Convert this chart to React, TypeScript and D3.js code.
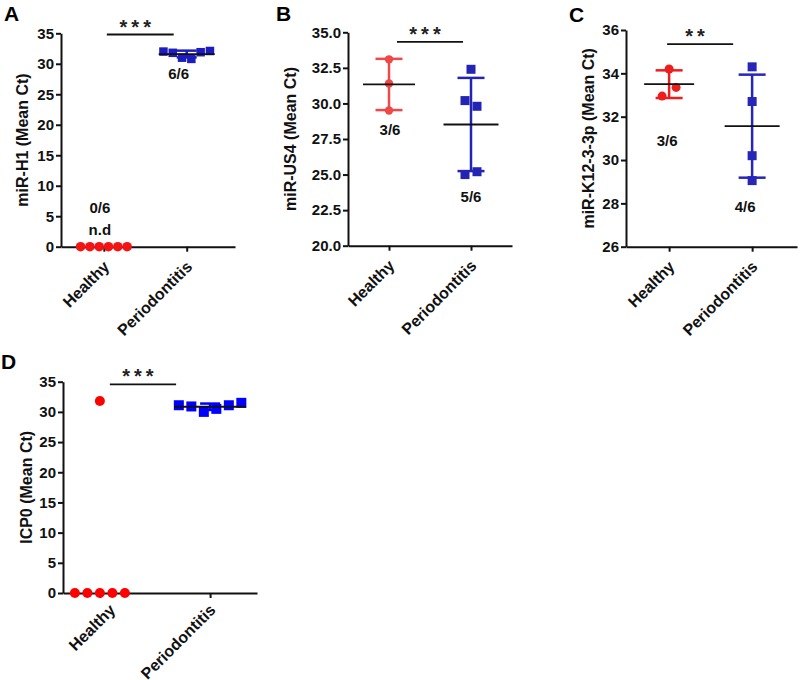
import React, { useEffect, useRef } from 'react';
import * as d3 from 'd3';

const groups = ['Healthy', 'Periodontitis'];

// Ct values
const h1Healthy = [0, 0, 0, 0, 0, 0];
const h1Perio = [32.0, 31.8, 31.0, 30.8, 31.9, 32.1];
const us4Healthy = [33.1, 31.4, 29.5];
const us4Perio = [32.4, 30.2, 29.8, 25.0, 25.2];
const k12Healthy = [34.2, 32.95, 33.35];
const k12Perio = [34.3, 32.7, 30.2, 29.05];
const icp0Healthy = [31.8, 0, 0, 0, 0, 0];
const icp0Perio = [31.1, 30.9, 30.0, 30.5, 31.1, 31.5];

const ticksA = [0, 5, 10, 15, 20, 25, 30, 35];
const ticksB = [20, 22.5, 25, 27.5, 30, 32.5, 35];
const ticksC = [26, 28, 30, 32, 34, 36];

const FONT = '"Liberation Sans", Arial, sans-serif';

const panels = [
  {
    letter: 'A', letterX: 4, letterY: 21,
    title: 'miR-H1 (Mean Ct)', titleX: 28,
    left: 61, right: 235, top: 33.3, bottom: 246.7, pad: 0.55, align: 0.47,
    domain: [0, 35], ticks: ticksA, fmt: d3.format('d'),
    healthy: h1Healthy, perio: h1Perio, stats: [false, true],
    red: '#f31414', blue: '#1c1cc0', r: 4.8, sq: 8.5, spacing: 9.3,
    meanW: [0, 56], capW: 20, labelDx: [0, 0], labelDy: 21,
    star: { text: '***', value: 34.8, dx1: 3, dx2: -13 },
    notes: [
      { group: 'Periodontitis', value: 27.5, text: '6/6', dx: -8 },
      { group: 'Healthy', value: 5.6, text: '0/6', dx: -4 },
      { group: 'Healthy', value: 1.9, text: 'n.d', dx: -4 },
    ],
  },
  {
    letter: 'B', letterX: 276, letterY: 21,
    title: 'miR-US4 (Mean Ct)', titleX: 296,
    left: 348, right: 512, top: 32.3, bottom: 245.7, pad: 0.5, align: 0.5,
    domain: [20, 35], ticks: ticksB, fmt: d3.format('.1f'),
    healthy: us4Healthy, perio: us4Perio, stats: [true, true],
    red: '#f04848', blue: '#2424b4', r: 4.2, sq: 9, spacing: 12,
    meanW: [52, 55], capW: 27, labelDx: [0, 0], labelDy: 21,
    star: { text: '***', value: 34.32, dx1: 8, dx2: -8 },
    notes: [
      { group: 'Healthy', value: 27.78, text: '3/6', dx: 1 },
      { group: 'Periodontitis', value: 23.1, text: '5/6', dx: 0 },
    ],
  },
  {
    letter: 'C', letterX: 569, letterY: 22,
    title: 'miR-K12-3-3p (Mean Ct)', titleX: 594,
    left: 626, right: 797, top: 30, bottom: 246.7, pad: 0.53, align: 0.49,
    domain: [26, 36], ticks: ticksC, fmt: d3.format('d'),
    healthy: k12Healthy, perio: k12Perio, stats: [true, true],
    red: '#ee1c1c', blue: '#2626b8', r: 4.5, sq: 9, spacing: 14,
    meanW: [50, 55], capW: 27, labelDx: [0, 0], labelDy: 21,
    star: { text: '**', value: 35.35, dx1: -2, dx2: -19 },
    notes: [
      { group: 'Healthy', value: 30.66, text: '3/6', dx: -2 },
      { group: 'Periodontitis', value: 27.6, text: '4/6', dx: -7 },
    ],
  },
  {
    letter: 'D', letterX: 1, letterY: 369,
    title: 'ICP0 (Mean Ct)', titleX: 32,
    left: 63, right: 257, top: 381.7, bottom: 593, pad: 0.38, align: 0.44,
    domain: [0, 35], ticks: ticksA, fmt: d3.format('d'),
    healthy: icp0Healthy, perio: icp0Perio, stats: [false, true],
    red: '#ff0000', blue: '#0000ff', r: 5, sq: 10, spacing: 12.5,
    meanW: [0, 72], capW: 20, labelDx: [10, 0], labelDy: 18,
    star: { text: '***', value: 34.57, dx1: 10, dx2: -34 },
    notes: [],
  },
];

// spread points that sit on nearly the same value side by side
function layout(values: number[], y: (v: number) => number, cx: number, spacing: number) {
  const idx = values.map((_, i) => i).sort((a, b) => values[a] - values[b]);
  const clusters: number[][] = [];
  idx.forEach((i) => {
    const last = clusters[clusters.length - 1];
    if (last && Math.abs(y(values[last[last.length - 1]]) - y(values[i])) < 10) last.push(i);
    else clusters.push([i]);
  });
  const xs: number[] = new Array(values.length);
  clusters.forEach((c) => {
    const ordered = c.slice().sort((a, b) => a - b);
    ordered.forEach((i, k) => {
      xs[i] = cx + (k - (ordered.length - 1) / 2) * spacing;
    });
  });
  return values.map((v, i) => ({ x: xs[i], y: y(v) }));
}

function drawPanel(svg: any, p: any) {
  const y = d3.scaleLinear().domain(p.domain).range([p.bottom, p.top]);
  const x = d3.scalePoint().domain(groups).range([p.left, p.right]).padding(p.pad).align(p.align);
  const g = svg.append('g');

  // axes
  const yAxis = g
    .append('g')
    .attr('transform', `translate(${p.left},0)`)
    .call(d3.axisLeft(y).tickValues(p.ticks).tickFormat(p.fmt).tickSize(5).tickSizeOuter(0).tickPadding(2));
  yAxis.selectAll('path, line').attr('stroke', '#111').attr('stroke-width', 2);
  yAxis.selectAll('text').attr('font-family', FONT).attr('font-size', 15).attr('font-weight', 'bold').attr('fill', '#111');

  const xAxis = g
    .append('g')
    .attr('transform', `translate(0,${p.bottom})`)
    .call(d3.axisBottom(x).tickSize(5).tickSizeOuter(0));
  xAxis.selectAll('path, line').attr('stroke', '#111').attr('stroke-width', 2);
  xAxis
    .selectAll('text')
    .attr('x', 0)
    .attr('y', 0)
    .attr('dy', 0)
    .attr('transform', (_: any, i: number) => `translate(${6 + p.labelDx[i]},${p.labelDy}) rotate(-45)`)
    .attr('text-anchor', 'end')
    .attr('font-family', FONT)
    .attr('font-size', 16)
    .attr('font-weight', 'bold')
    .attr('fill', '#111');

  // y title
  g.append('text')
    .text(p.title)
    .attr('transform', `translate(${p.titleX},${(p.top + p.bottom) / 2}) rotate(-90)`)
    .attr('text-anchor', 'middle')
    .attr('font-family', FONT)
    .attr('font-size', 16)
    .attr('font-weight', 'bold')
    .attr('fill', '#111');

  // panel letter
  g.append('text')
    .text(p.letter)
    .attr('x', p.letterX)
    .attr('y', p.letterY)
    .attr('font-family', FONT)
    .attr('font-size', 21)
    .attr('font-weight', 'bold')
    .attr('fill', '#000');

  const sets = [p.healthy, p.perio];
  const colors = [p.red, p.blue];

  // error bars (mean ± SD) drawn under the points
  sets.forEach((vals: number[], gi: number) => {
    if (!p.stats[gi]) return;
    const cx = x(groups[gi]) as number;
    const m = d3.mean(vals) as number;
    const sd = d3.deviation(vals) as number;
    g.append('line')
      .attr('x1', cx).attr('x2', cx)
      .attr('y1', y(m - sd)).attr('y2', y(m + sd))
      .attr('stroke', colors[gi]).attr('stroke-width', 2.5);
    [m - sd, m + sd].forEach((v) => {
      g.append('line')
        .attr('x1', cx - p.capW / 2).attr('x2', cx + p.capW / 2)
        .attr('y1', y(v)).attr('y2', y(v))
        .attr('stroke', colors[gi]).attr('stroke-width', 2.5);
    });
  });

  // points
  const hPts = layout(p.healthy, y, x('Healthy') as number, p.spacing);
  g.selectAll('circle.pt')
    .data(hPts)
    .enter()
    .append('circle')
    .attr('class', 'pt')
    .attr('cx', (d: any) => d.x)
    .attr('cy', (d: any) => d.y)
    .attr('r', p.r)
    .attr('fill', p.red);

  const pPts = layout(p.perio, y, x('Periodontitis') as number, p.spacing);
  g.selectAll('rect.pt')
    .data(pPts)
    .enter()
    .append('rect')
    .attr('class', 'pt')
    .attr('x', (d: any) => d.x - p.sq / 2)
    .attr('y', (d: any) => d.y - p.sq / 2)
    .attr('width', p.sq)
    .attr('height', p.sq)
    .attr('fill', p.blue);

  // mean lines on top
  sets.forEach((vals: number[], gi: number) => {
    if (!p.stats[gi]) return;
    const cx = x(groups[gi]) as number;
    const m = d3.mean(vals) as number;
    g.append('line')
      .attr('x1', cx - p.meanW[gi] / 2).attr('x2', cx + p.meanW[gi] / 2)
      .attr('y1', y(m)).attr('y2', y(m))
      .attr('stroke', '#111').attr('stroke-width', 1.8);
  });

  // significance bar
  const sy = y(p.star.value);
  const x1 = (x('Healthy') as number) + p.star.dx1;
  const x2 = (x('Periodontitis') as number) + p.star.dx2;
  g.append('line').attr('x1', x1).attr('x2', x2).attr('y1', sy).attr('y2', sy).attr('stroke', '#111').attr('stroke-width', 1.8);
  g.append('text')
    .text(p.star.text)
    .attr('x', (x1 + x2) / 2 - 3)
    .attr('y', sy - 1)
    .attr('text-anchor', 'middle')
    .attr('font-family', FONT)
    .attr('font-size', 20)
    .attr('font-weight', 'bold')
    .attr('letter-spacing', 4)
    .attr('fill', '#222');

  // count notes
  p.notes.forEach((n: any) => {
    g.append('text')
      .text(n.text)
      .attr('x', (x(n.group) as number) + n.dx)
      .attr('y', y(n.value))
      .attr('text-anchor', 'middle')
      .attr('font-family', FONT)
      .attr('font-size', 15)
      .attr('font-weight', 'bold')
      .attr('fill', '#111');
  });
}

const App = () => {
  const ref = useRef<SVGSVGElement>(null);

  useEffect(() => {
    const svg = d3.select(ref.current);
    svg.selectAll('*').remove();
    panels.forEach((p) => drawPanel(svg, p));
  }, []);

  return (
    <svg
      ref={ref}
      width={800}
      height={680}
      style={{ position: 'absolute', left: 0, top: 0, background: '#fff' }}
    />
  );
};

export default App;
